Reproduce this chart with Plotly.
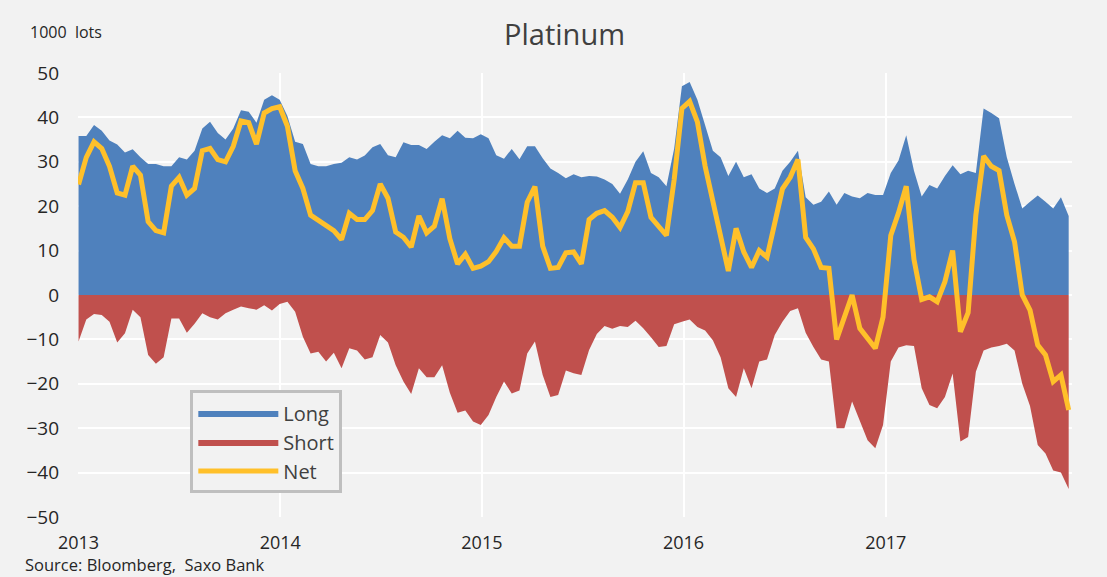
import pandas as pd
import plotly.graph_objects as go

# Biweekly observations, 1000 lots
dates = pd.date_range("2013-01-01", periods=129, freq="14D")

long_pos = [
    35.8, 35.8, 38.3, 37.0, 34.8, 33.9, 32.1, 32.8, 31.0, 29.5,
    29.5, 29.0, 29.0, 31.0, 30.5, 32.5, 37.5, 39.0, 36.5, 35.0,
    37.5, 41.6, 41.3, 38.8, 44.0, 45.0, 44.0, 40.3, 34.5, 34.0,
    29.5, 29.0, 29.0, 29.5, 29.8, 31.0, 30.5, 31.4, 33.3, 34.0,
    31.5, 31.0, 34.4, 33.8, 33.8, 32.9, 34.5, 36.0, 35.3, 37.0,
    35.4, 35.3, 36.2, 35.3, 31.5, 30.7, 32.9, 30.6, 33.5, 33.5,
    30.8, 28.5, 27.5, 26.3, 27.2, 26.5, 26.8, 26.7, 26.0, 25.0,
    22.8, 26.0, 30.0, 32.4, 27.5, 26.5, 24.5, 33.0, 47.0, 48.0,
    44.0, 38.0, 32.5, 31.0, 26.8, 30.0, 26.5, 27.2, 24.0, 23.0,
    24.0, 28.0, 30.0, 32.5, 22.0, 20.3, 21.0, 23.3, 20.3, 23.0,
    22.2, 21.8, 23.0, 22.5, 22.5, 27.5, 30.3, 36.0, 28.0, 22.2,
    24.8, 24.0, 26.8, 29.2, 27.2, 28.0, 27.5, 42.0, 41.0, 39.8,
    31.0, 25.0, 19.5, 21.0, 22.4, 21.0, 19.5, 22.0, 17.8,
]

short_pos = [
    -10.5, -5.5, -4.3, -4.5, -6.0, -10.7, -8.6, -3.3, -5.0, -13.5,
    -15.5, -14.0, -5.3, -5.3, -8.5, -6.5, -4.1, -5.0, -5.5, -4.1,
    -3.3, -2.6, -3.0, -3.3, -2.3, -3.5, -2.0, -1.5, -3.8, -9.4,
    -13.2, -12.8, -15.0, -13.0, -16.5, -12.0, -12.5, -14.5, -14.0, -9.0,
    -10.7, -15.8, -19.5, -22.3, -16.5, -18.5, -18.5, -15.8, -22.0, -26.5,
    -26.0, -28.5, -29.3, -27.0, -23.0, -19.5, -22.2, -21.5, -13.2, -10.5,
    -18.0, -23.0, -22.5, -17.0, -17.6, -18.0, -12.4, -8.8, -7.0, -7.6,
    -7.0, -7.2, -5.8, -7.5, -9.5, -11.7, -11.5, -6.6, -6.0, -5.5,
    -7.2, -8.0, -10.2, -14.0, -21.0, -23.0, -16.5, -21.0, -15.0, -14.5,
    -9.0, -6.0, -3.6, -3.0, -8.5, -11.7, -14.5, -15.0, -30.0, -30.0,
    -24.0, -28.5, -32.7, -34.5, -29.3, -15.0, -11.8, -11.3, -11.5, -21.0,
    -24.8, -25.5, -23.0, -17.7, -33.0, -32.0, -17.3, -12.5, -11.8, -11.5,
    -11.0, -12.5, -20.0, -25.0, -33.8, -35.7, -39.5, -40.0, -43.7,
]

net_pos = [
    24.9, 31.0, 34.5, 33.0, 29.0, 23.0, 22.5, 29.0, 27.0, 16.5,
    14.5, 14.0, 24.5, 26.5, 22.5, 24.0, 32.5, 33.0, 30.5, 30.0,
    33.5, 39.2, 38.8, 34.0, 41.0, 42.0, 42.4, 38.0, 28.0, 24.0,
    18.0, 16.9, 15.5, 14.5, 12.5, 18.4, 17.0, 17.0, 19.0, 25.0,
    21.8, 14.2, 13.0, 10.8, 17.8, 14.0, 15.5, 21.7, 12.7, 7.0,
    9.2, 6.0, 6.5, 7.5, 9.8, 12.9, 11.0, 11.0, 20.9, 24.4,
    11.0, 6.0, 6.2, 9.5, 9.7, 7.0, 17.0, 18.4, 19.0, 17.5,
    15.2, 18.8, 25.3, 25.3, 17.5, 15.3, 13.4, 26.0, 42.0, 43.6,
    39.0, 29.0, 21.5, 13.0, 5.4, 15.0, 9.7, 6.2, 10.0, 8.5,
    16.0, 23.9, 26.5, 30.5, 13.0, 10.4, 6.2, 6.0, -10.0, -5.0,
    0.0, -7.5, -9.8, -12.0, -5.0, 13.4, 18.5, 24.5, 8.0, -1.0,
    -0.4, -1.5, 3.0, 10.0, -8.3, -4.0, 18.0, 31.3, 29.0, 28.0,
    18.0, 12.0, 0.0, -3.4, -11.3, -13.5, -19.5, -18.0, -25.9,
]

series_names = ["Long", "Short", "Net"]
year_ticks = ["2013-01-01", "2014-01-01", "2015-01-01", "2016-01-01", "2017-01-01"]
y_ticks = [-50, -40, -30, -20, -10, 0, 10, 20, 30, 40, 50]

BG = "#f2f2f2"
BLUE = "#4f81bd"
RED = "#c0504d"
YELLOW = "#ffc02a"
FONT = "Open Sans"

fig = go.Figure()
fig.add_trace(go.Scatter(
    x=dates, y=long_pos, name=series_names[0], mode="lines",
    line=dict(width=0, color=BLUE), fill="tozeroy", fillcolor=BLUE,
))
fig.add_trace(go.Scatter(
    x=dates, y=short_pos, name=series_names[1], mode="lines",
    line=dict(width=0, color=RED), fill="tozeroy", fillcolor=RED,
))
fig.add_trace(go.Scatter(
    x=dates, y=net_pos, name=series_names[2], mode="lines",
    line=dict(width=5, color=YELLOW, shape="linear"),
))

fig.update_layout(
    width=1107, height=577,
    paper_bgcolor=BG, plot_bgcolor=BG,
    margin=dict(l=78, r=35, t=73, b=60),
    font=dict(family=FONT, color="#262626", size=17),
    title=dict(text="Platinum", x=0.51, xanchor="center", y=0.94, yanchor="middle",
               font=dict(family=FONT, size=29, color="#404040")),
    showlegend=True,
    legend=dict(
        x=0.113, y=0.285, xanchor="left", yanchor="top",
        bgcolor=BG, bordercolor="#bfbfbf", borderwidth=3,
        font=dict(family=FONT, size=20, color="#404040"),
        itemwidth=80, tracegroupgap=0,
    ),
    xaxis=dict(
        type="date", range=["2012-12-31", "2017-12-04"],
        tickvals=year_ticks, ticktext=[t[:4] for t in year_ticks],
        showgrid=True, gridcolor="white", gridwidth=2,
        zeroline=False, showline=False, ticks="",
        tickfont=dict(size=18, color="#262626"),
        ticklabelstandoff=13,
    ),
    yaxis=dict(
        range=[-50, 50], tickvals=y_ticks,
        showgrid=True, gridcolor="white", gridwidth=2,
        zeroline=False, showline=False, ticks="",
        tickfont=dict(size=19, color="#262626"),
        ticklabelstandoff=18,
    ),
    annotations=[
        dict(text="1000  lots", xref="paper", yref="paper", x=-0.0503, y=1.092,
             xanchor="left", yanchor="middle", showarrow=False,
             font=dict(family=FONT, size=16, color="#262626")),
        dict(text="Source: Bloomberg,  Saxo Bank", xref="paper", yref="paper",
             x=-0.0553, y=-0.1365, xanchor="left", yanchor="bottom", showarrow=False,
             font=dict(family=FONT, size=16.5, color="#262626")),
    ],
)

fig.write_html(
    "out.html",
    config={"displayModeBar": False},
    post_script="document.body.style.margin='0';document.body.style.overflow='hidden';",
)
